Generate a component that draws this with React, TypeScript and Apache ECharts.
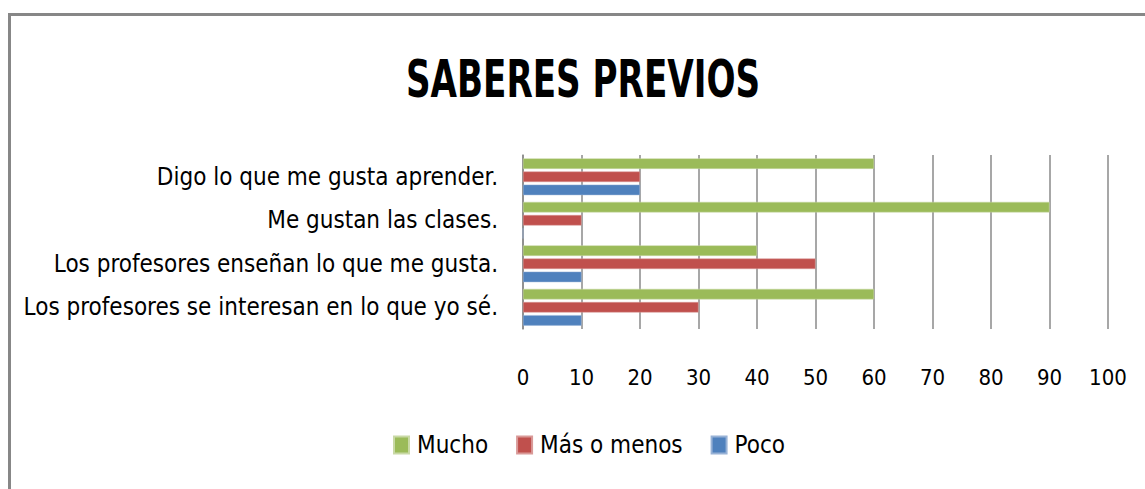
import React, { useEffect, useRef } from "react";
import * as echarts from "echarts";

const categories = [
  "Los profesores se interesan en lo que yo sé.",
  "Los profesores enseñan lo que me gusta.",
  "Me gustan las clases.",
  "Digo lo que me gusta aprender.",
];
const mucho = [60, 40, 90, 60];
const masOMenos = [30, 50, 10, 20];
const poco = [10, 10, 0, 20];
const xTicks = [0, 100, 10];

const FONT = '"DejaVu Sans Condensed", "Liberation Sans Narrow", sans-serif';

export default function App() {
  const ref = useRef<HTMLDivElement>(null);
  useEffect(() => {
    if (!ref.current) return;
    const chart = echarts.init(ref.current, undefined, { renderer: "svg" });
    chart.setOption({
      animation: false,
      backgroundColor: "#ffffff",
      textStyle: { fontFamily: FONT, color: "#000" },
      graphic: [
        {
          type: "rect",
          shape: { x: 9.5, y: 14.5, width: 1300, height: 700 },
          style: { fill: "none", stroke: "#878787", lineWidth: 3 },
          silent: true,
        },
        {
          type: "text",
          x: 583,
          y: 79.5,
          scaleY: 1.36,
          style: {
            text: "SABERES PREVIOS",
            font: `bold 38px ${FONT}`,
            fill: "#000",
            textAlign: "center",
            textVerticalAlign: "middle",
          },
        },
      ],
      legend: {
        data: ["Mucho", "Más o menos", "Poco"],
        left: 393,
        top: 433,
        padding: 0,
        itemWidth: 15,
        itemHeight: 17,
        itemGap: 28,
        icon: "rect",
        textStyle: { fontFamily: FONT, fontSize: 24, color: "#000", padding: [0, 0, 0, 3] },
      },
      grid: { left: 523, top: 155, width: 585, height: 174, containLabel: false },
      xAxis: {
        type: "value",
        min: xTicks[0],
        max: xTicks[1],
        interval: xTicks[2],
        axisLine: { show: false },
        axisTick: { show: false },
        splitLine: { show: true, lineStyle: { color: "#8a8a8a", width: 1.5 } },
        axisLabel: { fontFamily: FONT, fontSize: 22, color: "#000", margin: 37 },
      },
      yAxis: {
        type: "category",
        data: categories,
        axisLine: { show: true, lineStyle: { color: "#8a8a8a", width: 1.5 } },
        axisTick: { show: false },
        axisLabel: { fontFamily: FONT, fontSize: 24, color: "#000", margin: 25 },
      },
      series: [
        {
          name: "Mucho",
          type: "bar",
          data: mucho,
          barWidth: 10.5,
          barGap: "25%",
          itemStyle: { color: "#9BBB59", borderColor: "#c9d9a6", borderWidth: 0.5 },
        },
        {
          name: "Más o menos",
          type: "bar",
          data: masOMenos,
          barWidth: 10.5,
          barGap: "25%",
          itemStyle: { color: "#C0504D", borderColor: "#d99a98", borderWidth: 0.5 },
        },
        {
          name: "Poco",
          type: "bar",
          data: poco,
          barWidth: 10.5,
          barGap: "25%",
          itemStyle: { color: "#4F81BD", borderColor: "#98b2d6", borderWidth: 0.5 },
        },
      ],
    });
    return () => chart.dispose();
  }, []);
  return (
    <div
      ref={ref}
      style={{ position: "fixed", left: 0, top: 0, width: 1145, height: 489 }}
    />
  );
}
